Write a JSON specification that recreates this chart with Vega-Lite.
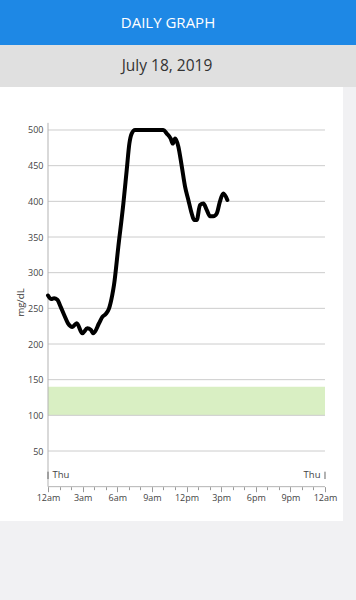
{
  "$schema": "https://vega.github.io/schema/vega-lite/v6.json",
  "background": "#f1f1f3",
  "padding": {"left": 0, "top": 0, "right": 0, "bottom": 79},
  "spacing": 0,
  "config": {
    "view": {"stroke": null},
    "font": "Open Sans",
    "axisX": {"labelOverlap": false, "labelFlush": false}
  },
  "vconcat": [
    {
      "width": 356,
      "height": 45,
      "view": {"fill": "#1e88e5", "stroke": null},
      "data": {"values": [{"t": "DAILY GRAPH"}]},
      "mark": {"type": "text", "font": "Open Sans", "fontSize": 15, "color": "#ffffff", "align": "center", "baseline": "middle", "dx": -10, "dy": 0.5},
      "encoding": {"text": {"field": "t"}}
    },
    {
      "width": 356,
      "height": 42,
      "view": {"fill": "#e0e0e0", "stroke": null},
      "data": {"values": [{"t": "July 18, 2019"}]},
      "mark": {"type": "text", "font": "Open Sans", "fontSize": 15.5, "color": "#333333", "align": "center", "baseline": "middle", "dx": -11},
      "encoding": {"text": {"field": "t"}}
    },
    {
      "width": 343,
      "height": 434,
      "view": {"fill": "#ffffff", "stroke": null},
      "layer": [
        {
          "data": {"values": [{"lo": 100, "hi": 140}]},
          "mark": {"type": "rect", "color": "#d9efc3"},
          "encoding": {
            "x": {"datum": 0, "type": "quantitative", "scale": {"domain": [-4.16, 25.56], "nice": false, "zero": false},
              "axis": {
                "values": [0, 1, 2, 3, 4, 5, 6, 7, 8, 9, 10, 11, 12, 13, 14, 15, 16, 17, 18, 19, 20, 21, 22, 23, 24],
                "tickCount": 40,
                "offset": -34.33, "domain": false, "grid": false, "ticks": true,
                "tickSize": {"condition": {"test": "datum.value % 3 == 0", "value": 5}, "value": 3},
                "tickColor": "#999999",
                "labelExpr": "datum.value % 3 != 0 ? '' : ((datum.value % 12 == 0 ? '12' : '' + (datum.value % 12)) + (datum.value % 24 < 12 ? 'am' : 'pm'))",
                "labelFont": "Open Sans", "labelFontSize": 9, "labelColor": "#444444", "labelPadding": 2,
                "labelOverlap": false, "labelFlush": false, "title": null
              }},
            "x2": {"datum": 24},
            "y": {"field": "lo", "type": "quantitative", "scale": {"domain": [-48.13, 560.28], "nice": false, "zero": false},
              "axis": {
                "values": [50, 100, 150, 200, 250, 300, 350, 400, 450, 500],
                "tickCount": 20,
                "offset": -48, "domain": false, "grid": false, "ticks": false, "tickSize": 0,
                "labelFont": "Open Sans", "labelFontSize": 9, "labelColor": "#444444", "labelPadding": 5,
                "title": "mg/dL", "titleFont": "Open Sans", "titleFontSize": 9.5, "titleFontWeight": "normal", "titleColor": "#333333",
                "titleX": -28, "titleY": 215, "titleAngle": -90, "titleAlign": "center", "titleBaseline": "middle"
              }},
            "y2": {"field": "hi"}
          }
        },
        {
          "data": {"values": [{"g": 50}, {"g": 100}, {"g": 150}, {"g": 200}, {"g": 250}, {"g": 300}, {"g": 350}, {"g": 400}, {"g": 450}, {"g": 500}]},
          "mark": {"type": "rule", "color": "#cccccc", "strokeWidth": 1},
          "encoding": {
            "x": {"datum": 0, "type": "quantitative"},
            "x2": {"datum": 24},
            "y": {"field": "g", "type": "quantitative"}
          }
        },
        {
          "data": {"values": [{}]},
          "mark": {"type": "rule", "color": "#b3b3b3", "strokeWidth": 1},
          "encoding": {
            "x": {"datum": 0, "type": "quantitative"},
            "x2": {"datum": 24},
            "y": {"datum": 0, "type": "quantitative"}
          }
        },
        {
          "data": {"values": [{}]},
          "mark": {"type": "rule", "color": "#b3b3b3", "strokeWidth": 1},
          "encoding": {
            "x": {"datum": 0, "type": "quantitative"},
            "y": {"datum": 0, "type": "quantitative"},
            "y2": {"datum": 510}
          }
        },
        {
          "data": {"values": [{"t": 0}, {"t": 24}]},
          "mark": {"type": "rule", "color": "#666666", "strokeWidth": 1},
          "encoding": {
            "x": {"field": "t", "type": "quantitative"},
            "y": {"datum": 10.7, "type": "quantitative"},
            "y2": {"datum": 21}
          }
        },
        {
          "data": {"values": [{"t": 0, "d": "Thu"}]},
          "mark": {"type": "text", "align": "left", "baseline": "middle", "dx": 4.5, "fontSize": 9.5, "color": "#444444", "font": "Open Sans"},
          "encoding": {
            "x": {"field": "t", "type": "quantitative"},
            "y": {"datum": 16, "type": "quantitative"},
            "text": {"field": "d"}
          }
        },
        {
          "data": {"values": [{"t": 24, "d": "Thu"}]},
          "mark": {"type": "text", "align": "right", "baseline": "middle", "dx": -4.5, "fontSize": 9.5, "color": "#444444", "font": "Open Sans"},
          "encoding": {
            "x": {"field": "t", "type": "quantitative"},
            "y": {"datum": 16, "type": "quantitative"},
            "text": {"field": "d"}
          }
        },
        {
          "data": {"values": [
            {"h": 0.0, "v": 268}, {"h": 0.29, "v": 263}, {"h": 0.52, "v": 264}, {"h": 0.81, "v": 262},
            {"h": 1.10, "v": 252}, {"h": 1.39, "v": 241}, {"h": 1.73, "v": 229}, {"h": 2.11, "v": 224},
            {"h": 2.49, "v": 229}, {"h": 2.97, "v": 215}, {"h": 3.41, "v": 222}, {"h": 3.70, "v": 220},
            {"h": 3.93, "v": 215}, {"h": 4.42, "v": 229}, {"h": 4.71, "v": 238}, {"h": 5.00, "v": 242},
            {"h": 5.29, "v": 250}, {"h": 5.57, "v": 269}, {"h": 5.72, "v": 283}, {"h": 6.09, "v": 336},
            {"h": 6.53, "v": 397}, {"h": 6.82, "v": 444}, {"h": 7.05, "v": 481}, {"h": 7.25, "v": 495},
            {"h": 7.54, "v": 500}, {"h": 9.99, "v": 500}, {"h": 10.29, "v": 495}, {"h": 10.63, "v": 488},
            {"h": 10.81, "v": 481}, {"h": 11.01, "v": 488}, {"h": 11.29, "v": 477}, {"h": 11.59, "v": 449},
            {"h": 11.87, "v": 421}, {"h": 12.16, "v": 402}, {"h": 12.45, "v": 383}, {"h": 12.65, "v": 374},
            {"h": 12.89, "v": 374}, {"h": 13.17, "v": 395}, {"h": 13.46, "v": 397}, {"h": 13.75, "v": 388},
            {"h": 14.04, "v": 379}, {"h": 14.32, "v": 379}, {"h": 14.62, "v": 383}, {"h": 14.90, "v": 400},
            {"h": 15.19, "v": 411}, {"h": 15.54, "v": 402}
          ]},
          "mark": {"type": "line", "color": "#000000", "strokeWidth": 4, "interpolate": "monotone", "strokeCap": "round", "strokeJoin": "round"},
          "encoding": {
            "x": {"field": "h", "type": "quantitative"},
            "y": {"field": "v", "type": "quantitative"}
          }
        }
      ]
    }
  ]
}
